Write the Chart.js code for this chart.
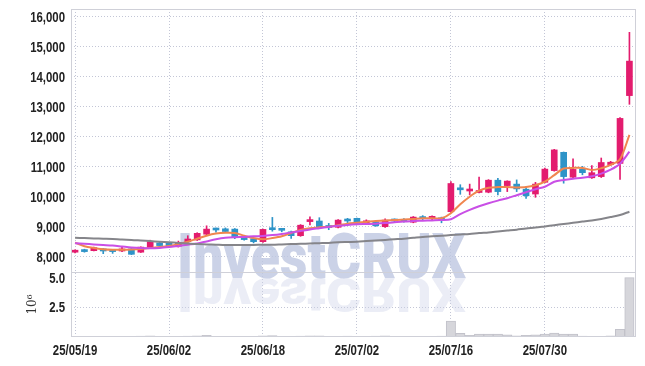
<!DOCTYPE html>
<html lang="ko">
<head>
<meta charset="UTF-8">
<title>Candle chart</title>
<style>
  body { margin: 0; background: #fff; }
  #wrap { width: 645px; height: 366px; }
</style>
<script src="https://cdn.jsdelivr.net/npm/chart.js"></script>
</head>
<body>
<div id="wrap"><canvas id="chart" width="645" height="366"></canvas></div>
<script>
// trading days shown on the chart
const dates = [
  '25/05/19','25/05/20','25/05/21','25/05/22','25/05/23','25/05/26','25/05/27','25/05/28','25/05/29','25/05/30',
  '25/06/02','25/06/04','25/06/05','25/06/09','25/06/10','25/06/11','25/06/12','25/06/13','25/06/16','25/06/17',
  '25/06/18','25/06/19','25/06/20','25/06/23','25/06/24','25/06/25','25/06/26','25/06/27','25/06/30','25/07/01',
  '25/07/02','25/07/03','25/07/04','25/07/07','25/07/08','25/07/09','25/07/10','25/07/11','25/07/14','25/07/15',
  '25/07/16','25/07/17','25/07/18','25/07/21','25/07/22','25/07/23','25/07/24','25/07/25','25/07/28','25/07/29',
  '25/07/30','25/07/31','25/08/01','25/08/04','25/08/05','25/08/06','25/08/07','25/08/08','25/08/11','25/08/12'
];

const opens = [
  8150, 8210, 8200, 8260, 8200, 8190, 8260, 8150, 8310, 8460,
  8450, 8350, 8500, 8560, 8750, 8920, 8930, 8920, 8650, 8600,
  8500, 8960, 8920, 8830, 8700, 9170, 9190, 9040, 8980, 9210,
  9280, 9130, 9160, 9000, 9210, 9230, 9150, 9310, 9280, 9290,
  9500, 10260, 10190, 10140, 10150, 10550, 10370, 10420, 10250, 10090,
  10480, 10870, 11480, 10650, 10920, 10630, 10670, 11070, 11110, 13370
];
const highs = [
  8230, 8250, 8320, 8270, 8210, 8330, 8270, 8330, 8550, 8500,
  8470, 8520, 8700, 8800, 9030, 8950, 8960, 8940, 8670, 8610,
  8920, 9310, 8940, 8850, 9070, 9330, 9300, 9110, 9240, 9280,
  9290, 9230, 9190, 9260, 9260, 9270, 9340, 9370, 9360, 9320,
  10500, 10400, 10420, 10650, 10570, 10610, 10530, 10560, 10330, 10480,
  10950, 11580, 11490, 11260, 11010, 11040, 11290, 11180, 12640, 15480
];
const lows = [
  8130, 8150, 8190, 8100, 8110, 8170, 8070, 8140, 8300, 8320,
  8300, 8320, 8480, 8540, 8730, 8820, 8820, 8600, 8550, 8460,
  8480, 8850, 8830, 8610, 8680, 9060, 8940, 8900, 8960, 9130,
  9080, 9080, 9010, 8980, 9140, 9150, 9130, 9230, 9200, 9130,
  9480, 10080, 10060, 10130, 10130, 10060, 10170, 10170, 9940, 9980,
  10460, 10850, 10450, 10620, 10730, 10610, 10640, 11040, 10580, 13080
];
const closes = [
  8180, 8170, 8300, 8190, 8170, 8260, 8080, 8320, 8500, 8370,
  8340, 8480, 8590, 8780, 8920, 8890, 8840, 8650, 8570, 8500,
  8910, 8900, 8880, 8700, 9050, 9200, 8970, 8970, 9220, 9190,
  9110, 9160, 9030, 9220, 9190, 9170, 9320, 9270, 9310, 9230,
  10440, 10230, 10240, 10190, 10550, 10170, 10520, 10260, 10030, 10420,
  10920, 11560, 10670, 10910, 10800, 10800, 11140, 11150, 12610, 14520
];

// moving averages
const maShort = [
  8470, 8350, 8290, 8250, 8230, 8230, 8240, 8260, 8290, 8320,
  8360, 8420, 8500, 8600, 8700, 8770, 8800, 8790, 8700, 8620,
  8580, 8620, 8680, 8790, 8890, 8950, 8980, 9000, 9050, 9100,
  9130, 9160, 9190, 9210, 9220, 9240, 9260, 9280, 9280, 9280,
  9450, 9750, 10000, 10200, 10300, 10320, 10320, 10310, 10320, 10380,
  10500, 10720, 10940, 10960, 10960, 10890, 10950, 11060, 11250, 12060
];
const maMid = [
  8450, 8430, 8410, 8390, 8370, 8340, 8310, 8290, 8280, 8290,
  8320, 8360, 8400, 8440, 8510, 8580, 8630, 8650, 8660, 8680,
  8690, 8720, 8760, 8810, 8860, 8910, 8950, 8990, 9030, 9060,
  9080, 9090, 9100, 9120, 9150, 9170, 9190, 9200, 9210, 9220,
  9250, 9420, 9560, 9680, 9780, 9870, 9950, 10050, 10150, 10250,
  10330, 10500, 10560, 10600, 10630, 10680, 10770, 10900, 11100, 11500
];
const maLong = [
  8630, 8620, 8610, 8600, 8590, 8570, 8560, 8540, 8520, 8500,
  8480, 8460, 8440, 8420, 8410, 8400, 8390, 8390, 8390, 8390,
  8400, 8400, 8410, 8420, 8430, 8440, 8450, 8460, 8480, 8490,
  8500, 8520, 8540, 8560, 8580, 8600, 8630, 8660, 8680, 8700,
  8720, 8740, 8760, 8790, 8810, 8840, 8870, 8900, 8940, 8970,
  9010, 9050, 9090, 9130, 9170, 9210, 9260, 9320, 9390, 9500
];

// volume in millions
const volumes = [
  0.03, 0.02, 0.03, 0.02, 0.02, 0.03, 0.06, 0.08, 0.09, 0.05,
  0.04, 0.05, 0.07, 0.10, 0.14, 0.05, 0.04, 0.06, 0.05, 0.06,
  0.09, 0.12, 0.05, 0.04, 0.08, 0.10, 0.09, 0.05, 0.04, 0.07,
  0.06, 0.05, 0.08, 0.09, 0.05, 0.04, 0.05, 0.06, 0.05, 0.08,
  1.35, 0.30, 0.15, 0.24, 0.24, 0.24, 0.18, 0.10, 0.15, 0.18,
  0.24, 0.32, 0.25, 0.25, 0.08, 0.06, 0.06, 0.10, 0.65, 5.00
];

const xTickIdx = [0, 10, 20, 30, 40, 50];
const priceTicks = [8000, 9000, 10000, 11000, 12000, 13000, 14000, 15000, 16000];
const volTicks = [2.5, 5.0];
const watermark = 'InvestCRUX';

const UP = '#e31c6e';
const DOWN = '#2e94c8';
const GRID = '#c3c6d6';

const candleColors = opens.map((o, i) => closes[i] >= o ? UP : DOWN);
const pts = arr => arr.map((v, i) => ({ x: i, y: v }));

const watermarkPlugin = {
  id: 'watermark',
  beforeDatasetsDraw(chart) {
    const ctx = chart.ctx;
    ctx.save();
    ctx.font = '900 63px Roboto, "DejaVu Sans", sans-serif';
    const w = ctx.measureText(watermark).width;
    ctx.translate(177, 278);
    ctx.scale(289 / w, 1);
    ctx.fillStyle = 'rgba(190,199,225,0.8)';
    ctx.fillText(watermark, 0, 0);
    ctx.scale(1, -0.75);
    ctx.fillStyle = 'rgba(205,211,232,0.4)';
    ctx.fillText(watermark, 0, 0);
    ctx.restore();
  }
};

const framePlugin = {
  id: 'frame',
  afterDraw(chart) {
    const { ctx, chartArea: a, scales } = chart;
    ctx.save();
    ctx.strokeStyle = '#cfd0d8';
    ctx.lineWidth = 1;
    ctx.strokeRect(Math.round(a.left) + 0.5, Math.round(a.top) + 0.5,
      Math.round(a.width) - 1, Math.round(a.height) - 1);
    const yb = Math.round(scales.y.bottom) + 0.5;
    ctx.beginPath();
    ctx.moveTo(a.left, yb);
    ctx.lineTo(a.right, yb);
    ctx.stroke();

    // tick labels in a condensed bold face, placed from the scales
    ctx.font = 'bold 15px "Liberation Sans", "DejaVu Sans", sans-serif';
    ctx.fillStyle = '#222';
    ctx.textBaseline = 'middle';
    const put = (t, x, y, align) => {
      ctx.save();
      ctx.translate(x, y);
      ctx.scale(0.76, 1);
      ctx.textAlign = align;
      ctx.fillText(t, 0, 0);
      ctx.restore();
    };
    for (const id of ['y', 'yv']) {
      const s = scales[id];
      s.ticks.forEach(t => put(s.options.ticks.callback(t.value), s.right - 6, s.getPixelForValue(t.value) + 1, 'right'));
    }
    const sx = scales.x;
    sx.ticks.forEach(t => put(dates[t.value], sx.getPixelForValue(t.value), sx.top + 14, 'center'));
    ctx.restore();
  }
};

const lineDs = (data, color) => ({
  type: 'line', data: pts(data), yAxisID: 'y', borderColor: color,
  borderWidth: 2, pointRadius: 0, tension: 0.3, order: 0
});

new Chart(document.getElementById('chart'), {
  data: {
    datasets: [
      lineDs(maLong, '#85858a'),
      lineDs(maMid, '#c94fe6'),
      lineDs(maShort, '#f0864f'),
      {
        type: 'bar', data: opens.map((o, i) => ({ x: i, y: [o, closes[i]] })),
        yAxisID: 'y', backgroundColor: candleColors, barThickness: 6,
        minBarLength: 2, grouped: false, order: 1
      },
      {
        type: 'bar', data: lows.map((l, i) => ({ x: i, y: [l, highs[i]] })),
        yAxisID: 'y', backgroundColor: candleColors, barThickness: 1,
        grouped: false, order: 2
      },
      {
        type: 'bar', data: pts(volumes), yAxisID: 'yv',
        backgroundColor: '#d6d6db', borderColor: '#c2c2ca', borderWidth: 1,
        barThickness: 9.4, grouped: false, order: 3
      }
    ]
  },
  options: {
    responsive: false,
    animation: false,
    layout: { padding: { top: 9, right: 9, left: 0, bottom: 0 } },
    plugins: { legend: { display: false }, tooltip: { enabled: false } },
    scales: {
      x: {
        type: 'linear', min: -0.43, max: 59.7, offset: false,
        afterBuildTicks: s => { s.ticks = xTickIdx.map(v => ({ value: v })); },
        afterFit: s => { s.height = 29; },
        ticks: { display: false, callback: v => dates[v] },
        grid: { color: GRID, drawTicks: false, offset: false },
        border: { display: false, dash: [1, 2] }
      },
      yv: {
        type: 'linear', position: 'left', stack: 'main', stackWeight: 65,
        min: 0, max: 5.48,
        afterBuildTicks: s => { s.ticks = volTicks.map(v => ({ value: v })); },
        afterFit: s => { s.width = 71; },
        ticks: { display: false, callback: v => v.toFixed(1) },
        title: { display: true, text: '10⁶', font: { family: '"DejaVu Serif", serif', size: 12 }, color: '#333', padding: { top: 26, bottom: 0 } },
        grid: { color: c => c.tick && c.tick.value === 2.5 ? GRID : 'rgba(0,0,0,0)', drawTicks: false },
        border: { display: false, dash: [1, 2] }
      },
      y: {
        type: 'linear', position: 'left', stack: 'main', stackWeight: 263,
        min: 7490, max: 16257,
        afterBuildTicks: s => { s.ticks = priceTicks.map(v => ({ value: v })); },
        afterFit: s => { s.width = 71; },
        ticks: { display: false, callback: v => v.toLocaleString('en-US') },
        grid: { color: GRID, drawTicks: false },
        border: { display: false, dash: [1, 2] }
      }
    }
  },
  plugins: [watermarkPlugin, framePlugin]
});
</script>
</body>
</html>
